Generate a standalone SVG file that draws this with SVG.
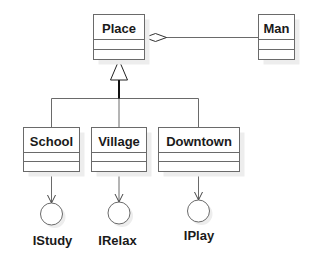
<svg xmlns="http://www.w3.org/2000/svg" width="310" height="265" viewBox="0 0 310 265">
<defs>
<style>
.sh{fill:#ededed;stroke:none}
.box{fill:#fff;stroke:#6a6a6a;stroke-width:1}
.ln{stroke:#6a6a6a;stroke-width:1;fill:none}
.t{font-family:"Liberation Sans",Arial,sans-serif;font-size:13px;font-weight:bold;fill:#1a1a1a;text-anchor:middle}
</style>
<marker id="open" markerWidth="10" markerHeight="10" refX="9" refY="5" orient="auto" markerUnits="userSpaceOnUse" viewBox="0 0 10 10">
<path d="M1,1 L9,5 L1,9" fill="none" stroke="#444" stroke-width="1"/>
</marker>
</defs>
<rect width="310" height="265" fill="#fff"/>
<g id="connectors">
<line class="ln" x1="166" y1="37.5" x2="258.5" y2="37.5"/>
<polygon points="144.5,37.5 155.5,33.5 166.5,37.5 155.5,41.5" fill="#fff" stroke="#333" stroke-width="1"/>
<polyline class="ln" points="51.5,127.5 51.5,98.5 198.5,98.5 198.5,127.5"/>
<line class="ln" x1="119" y1="98.5" x2="119" y2="127.5"/>
<line x1="119" y1="80" x2="119" y2="98.5" stroke="#111" stroke-width="2"/>
<polygon points="119,60 110.5,80 127.5,80" fill="#fff" stroke="#222" stroke-width="1"/>
<line class="ln" x1="51.5" y1="171.5" x2="51.5" y2="203" marker-end="url(#open)"/>
<line class="ln" x1="119" y1="171.5" x2="119" y2="202" marker-end="url(#open)"/>
<line class="ln" x1="198.5" y1="171.5" x2="198.5" y2="200" marker-end="url(#open)"/>
</g>
<g id="Place">
<rect class="sh" x="98.5" y="19.5" width="51" height="45"/>
<rect class="box" x="93.5" y="14.5" width="51" height="45"/>
<line class="ln" x1="93.5" y1="39.5" x2="144.5" y2="39.5"/>
<line class="ln" x1="93.5" y1="49.5" x2="144.5" y2="49.5"/>
<text class="t" x="119" y="33">Place</text>
</g>
<g id="Man">
<rect class="sh" x="263.5" y="19.5" width="36" height="45"/>
<rect class="box" x="258.5" y="14.5" width="36" height="45"/>
<line class="ln" x1="258.5" y1="39.5" x2="294.5" y2="39.5"/>
<line class="ln" x1="258.5" y1="49.5" x2="294.5" y2="49.5"/>
<text class="t" x="276.5" y="33">Man</text>
</g>
<g id="School">
<rect class="sh" x="28.5" y="132.5" width="56" height="44"/>
<rect class="box" x="23.5" y="127.5" width="56" height="44"/>
<line class="ln" x1="23.5" y1="152.5" x2="79.5" y2="152.5"/>
<line class="ln" x1="23.5" y1="161.5" x2="79.5" y2="161.5"/>
<text class="t" x="51.5" y="145.5">School</text>
</g>
<g id="Village">
<rect class="sh" x="96.5" y="132.5" width="55" height="44"/>
<rect class="box" x="91.5" y="127.5" width="55" height="44"/>
<line class="ln" x1="91.5" y1="152.5" x2="146.5" y2="152.5"/>
<line class="ln" x1="91.5" y1="161.5" x2="146.5" y2="161.5"/>
<text class="t" x="119" y="145.5">Village</text>
</g>
<g id="Downtown">
<rect class="sh" x="163.5" y="132.5" width="81" height="44"/>
<rect class="box" x="158.5" y="127.5" width="81" height="44"/>
<line class="ln" x1="158.5" y1="152.5" x2="239.5" y2="152.5"/>
<line class="ln" x1="158.5" y1="161.5" x2="239.5" y2="161.5"/>
<text class="t" x="199" y="145.5">Downtown</text>
</g>
<g id="IStudy">
<circle class="sh" cx="54.5" cy="217" r="11"/>
<circle class="box" cx="51.5" cy="214" r="11"/>
<text class="t" x="52.5" y="245">IStudy</text>
</g>
<g id="IRelax">
<circle class="sh" cx="122" cy="216" r="11"/>
<circle class="box" cx="119" cy="213" r="11"/>
<text class="t" x="117.5" y="245">IRelax</text>
</g>
<g id="IPlay">
<circle class="sh" cx="201.5" cy="214" r="11"/>
<circle class="box" cx="198.5" cy="211" r="11"/>
<text class="t" x="199" y="240">IPlay</text>
</g>
</svg>
